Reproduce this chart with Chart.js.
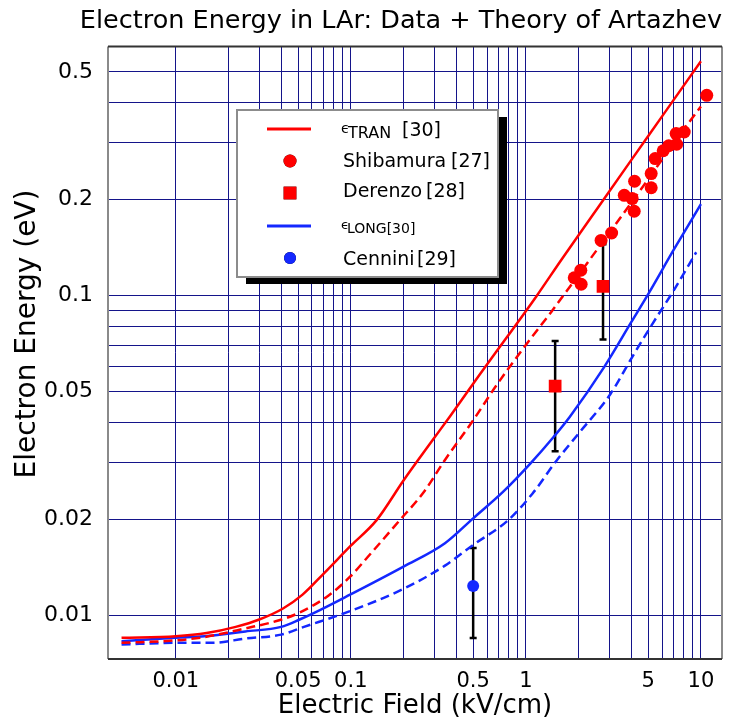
<!DOCTYPE html>
<html>
<head>
<meta charset="utf-8">
<title>Electron Energy in LAr</title>
<script src="https://cdn.jsdelivr.net/npm/chart.js@4.4.0/dist/chart.umd.min.js"></script>
<style>
  html, body { margin: 0; padding: 0; background: #fff; }
</style>
</head>
<body>
<canvas id="energyChart" width="732" height="724"></canvas>
<script>
// Artazhev theory, transverse energy (solid + dashed)
const tranField = [0.0049, 0.01, 0.015, 0.022, 0.03, 0.041, 0.053, 0.07, 0.1, 0.14, 0.2, 0.29, 0.37, 0.54, 0.79, 1.15, 1.6, 2.35, 4.0, 6.0, 10];
const tranEnergy = [0.0085, 0.0086, 0.0088, 0.0092, 0.0097, 0.0105, 0.0116, 0.0135, 0.0165, 0.0198, 0.0264, 0.035, 0.042, 0.0562, 0.0748, 0.0995, 0.1296, 0.175, 0.265, 0.363, 0.54];
const tranDashField = [0.0049, 0.01, 0.0146, 0.025, 0.039, 0.051, 0.075, 0.099, 0.13, 0.19, 0.26, 0.345, 0.5, 0.67, 0.98, 1.4, 2.0, 3.0, 5.0, 7.0, 10];
const tranDashEnergy = [0.0082, 0.00835, 0.00855, 0.0091, 0.00965, 0.0102, 0.01155, 0.0132, 0.0156, 0.0198, 0.0242, 0.0306, 0.0407, 0.0518, 0.069, 0.089, 0.116, 0.157, 0.231, 0.30, 0.39];

// Artazhev theory, longitudinal energy (solid + dashed)
const longField = [0.0049, 0.01, 0.0146, 0.025, 0.04, 0.051, 0.067, 0.099, 0.2, 0.345, 0.5, 0.74, 1.06, 1.44, 1.78, 2.8, 4.0, 5.0, 7.0, 10];
const longEnergy = [0.0083, 0.0085, 0.0086, 0.0089, 0.0092, 0.0097, 0.0104, 0.0116, 0.0142, 0.0168, 0.0201, 0.0243, 0.0298, 0.0361, 0.0417, 0.0597, 0.0825, 0.101, 0.139, 0.193];
const longDashField = [0.0049, 0.01, 0.0163, 0.025, 0.04, 0.054, 0.099, 0.2, 0.345, 0.5, 0.79, 1.09, 1.5, 2.0, 3.05, 4.05, 5.3, 7.0, 9.4];
const longDashEnergy = [0.0081, 0.0082, 0.0082, 0.00846, 0.0087, 0.0092, 0.0103, 0.0121, 0.0143, 0.0166, 0.0198, 0.024, 0.0305, 0.037, 0.0493, 0.0642, 0.0817, 0.1038, 0.1365];

// measurements
const shibField = [1.89, 2.06, 2.07, 2.69, 3.09, 3.65, 4.05, 4.16, 4.18, 5.2, 5.2, 5.48, 6.09, 6.55, 7.27, 7.22, 8.03, 10.8];
const shibEnergy = [0.1136, 0.1199, 0.1084, 0.1486, 0.1568, 0.2057, 0.2009, 0.1834, 0.2276, 0.2172, 0.2405, 0.268, 0.2835, 0.2938, 0.2971, 0.3208, 0.3245, 0.4226];
const derenzoField = [1.47, 2.76];
const derenzoEnergy = [0.0521, 0.1068];
const derenzoLow = [0.0326, 0.0728];
const derenzoHigh = [0.0721, 0.1446];
const cenniniField = [0.5];
const cenniniEnergy = [0.01235];
const cenniniLow = [0.00849];
const cenniniHigh = [0.01623];

// tick labels
const xTickLabels = [0.01, 0.05, 0.1, 0.5, 1, 5, 10];
const yTickLabels = [0.01, 0.02, 0.05, 0.1, 0.2, 0.5];

const FONT = 'DejaVu Sans';
const RED = '#ff0000';
const BLUE = '#1428ff';
const GRID = '#14148a';

const toPoints = (xs, ys) => xs.map((x, i) => ({ x: x, y: ys[i] }));

// grid line at every 1..9 x 10^n from 0.01 up
function gridTicks(scale) {
  const ticks = [];
  for (let e = -2; e <= 1; e++) {
    for (let m = 1; m <= 9; m++) {
      const v = +(m * Math.pow(10, e)).toPrecision(2);
      if (v >= 0.01 && v <= scale.max) ticks.push({ value: v });
    }
  }
  scale.ticks = ticks;
}

function labelFor(list) {
  return function (value) {
    const hit = list.find(l => Math.abs(l - value) < l * 1e-6);
    return hit === undefined ? '' : String(hit);
  };
}

const errorBarPlugin = {
  id: 'errorBars',
  beforeDatasetsDraw(chart) {
    const { ctx, scales: { x, y } } = chart;
    ctx.save();
    ctx.strokeStyle = '#000';
    ctx.lineWidth = 2.5;
    chart.data.datasets.forEach(ds => {
      if (!ds.errLow) return;
      ds.data.forEach((p, i) => {
        const px = x.getPixelForValue(p.x);
        const top = y.getPixelForValue(ds.errHigh[i]);
        const bot = y.getPixelForValue(ds.errLow[i]);
        ctx.beginPath();
        ctx.moveTo(px, top); ctx.lineTo(px, bot);
        ctx.moveTo(px - 3.5, top); ctx.lineTo(px + 3.5, top);
        ctx.moveTo(px - 3.5, bot); ctx.lineTo(px + 3.5, bot);
        ctx.stroke();
      });
    });
    ctx.restore();
  }
};

// plot frame + rotated y-axis title
const framePlugin = {
  id: 'frame',
  afterDraw(chart) {
    const { ctx, chartArea: a } = chart;
    ctx.save();
    ctx.lineWidth = 2;
    ctx.strokeStyle = '#8a8a8a';
    ctx.beginPath();
    ctx.moveTo(a.left, a.top); ctx.lineTo(a.left, a.bottom);
    ctx.moveTo(a.right, a.top); ctx.lineTo(a.right, a.bottom);
    ctx.stroke();
    ctx.strokeStyle = '#333';
    ctx.beginPath();
    ctx.moveTo(a.left, a.top); ctx.lineTo(a.right, a.top);
    ctx.moveTo(a.left, a.bottom); ctx.lineTo(a.right, a.bottom);
    ctx.stroke();

    ctx.translate(28, 334);
    ctx.rotate(-Math.PI / 2);
    ctx.fillStyle = '#000';
    ctx.font = '28px "' + FONT + '"';
    ctx.textAlign = 'center';
    ctx.textBaseline = 'middle';
    ctx.fillText('Electron Energy (eV)', 0, 0);
    ctx.restore();
  }
};

// boxed legend with a drop shadow, inside the plot
const legendRows = [
  { ds: 4, y: 129, parts: [['\u03F5', 14, 341, 133], ['TRAN', 16, 348, 138], ['[30]', 19, 402, 136]] },
  { ds: 0, y: 161, parts: [['Shibamura', 19, 343, 167], ['[27]', 19, 451, 167]] },
  { ds: 1, y: 193, parts: [['Derenzo', 19, 343, 197], ['[28]', 19, 426, 197]] },
  { ds: 6, y: 226, parts: [['\u03F5', 13, 341, 229], ['LONG[30]', 14, 347, 233]] },
  { ds: 2, y: 258, parts: [['Cennini', 19, 343, 265], ['[29]', 19, 417, 265]] }
];

const boxLegendPlugin = {
  id: 'boxLegend',
  afterDraw(chart) {
    const ctx = chart.ctx;
    const L = 237, T = 110, W = 261, H = 167;
    ctx.save();
    ctx.fillStyle = '#000';
    ctx.fillRect(L + 9, T + 7, W, H);
    ctx.fillStyle = '#fff';
    ctx.fillRect(L, T, W, H);
    ctx.strokeStyle = '#8c8c8c';
    ctx.lineWidth = 2;
    ctx.strokeRect(L, T, W, H);

    legendRows.forEach(row => {
      const ds = chart.data.datasets[row.ds];
      if (ds.showLine) {
        ctx.strokeStyle = ds.borderColor;
        ctx.lineWidth = 3;
        ctx.beginPath();
        ctx.moveTo(267, row.y);
        ctx.lineTo(311, row.y);
        ctx.stroke();
      } else {
        Chart.helpers.drawPoint(ctx, {
          pointStyle: ds.pointStyle,
          radius: ds.pointRadius,
          rotation: 0,
          borderWidth: 0
        }, 290, row.y);
        ctx.fillStyle = ds.backgroundColor;
        ctx.fill();
      }
      ctx.fillStyle = '#000';
      ctx.textBaseline = 'alphabetic';
      ctx.textAlign = 'left';
      row.parts.forEach(([text, size, x, base]) => {
        ctx.font = size + 'px "' + FONT + '"';
        ctx.fillText(text, x, base);
      });
    });
    ctx.restore();
  }
};

const lineStyle = { pointRadius: 0, showLine: true, borderWidth: 2.5, cubicInterpolationMode: 'monotone' };

new Chart(document.getElementById('energyChart'), {
  type: 'scatter',
  data: {
    datasets: [
      {
        label: 'Shibamura [27]',
        data: toPoints(shibField, shibEnergy),
        backgroundColor: RED, borderColor: RED, borderWidth: 0,
        pointStyle: 'circle', pointRadius: 6.5, showLine: false
      },
      {
        label: 'Derenzo [28]',
        data: toPoints(derenzoField, derenzoEnergy),
        errLow: derenzoLow, errHigh: derenzoHigh,
        backgroundColor: RED, borderColor: RED, borderWidth: 0,
        pointStyle: 'rect', pointRadius: 9, showLine: false
      },
      {
        label: 'Cennini [29]',
        data: toPoints(cenniniField, cenniniEnergy),
        errLow: cenniniLow, errHigh: cenniniHigh,
        backgroundColor: BLUE, borderColor: BLUE, borderWidth: 0,
        pointStyle: 'circle', pointRadius: 6, showLine: false
      },
      Object.assign({
        label: 'eps TRAN dashed',
        data: toPoints(tranDashField, tranDashEnergy),
        borderColor: RED, borderDash: [9, 5]
      }, lineStyle),
      Object.assign({
        label: 'eps TRAN [30]',
        data: toPoints(tranField, tranEnergy),
        borderColor: RED
      }, lineStyle),
      Object.assign({
        label: 'eps LONG dashed',
        data: toPoints(longDashField, longDashEnergy),
        borderColor: BLUE, borderDash: [9, 5]
      }, lineStyle),
      Object.assign({
        label: 'eps LONG [30]',
        data: toPoints(longField, longEnergy),
        borderColor: BLUE
      }, lineStyle)
    ]
  },
  options: {
    responsive: false,
    animation: false,
    devicePixelRatio: 1,
    layout: { padding: { left: 0, right: 10, top: 0, bottom: 0 } },
    plugins: {
      legend: { display: false },
      tooltip: { enabled: false },
      title: {
        display: true,
        text: 'Electron Energy in LAr: Data + Theory of Artazhev',
        align: 'end',
        color: '#000',
        font: { family: FONT, size: 25.5, weight: 'normal' },
        padding: { top: 6, bottom: 10 }
      }
    },
    scales: {
      x: {
        type: 'logarithmic',
        min: 0.0041,
        max: 13.2,
        afterFit(s) { s.height = 65; },
        afterBuildTicks: gridTicks,
        grid: { color: GRID, lineWidth: 1, drawTicks: false },
        border: { display: false },
        ticks: {
          autoSkip: false, maxRotation: 0, padding: 10, color: '#000',
          font: { family: FONT, size: 21 },
          callback: labelFor(xTickLabels)
        },
        title: {
          display: true, text: 'Electric Field (kV/cm)', color: '#000',
          font: { family: FONT, size: 26 },
          padding: { top: 0, bottom: 2 }
        }
      },
      y: {
        type: 'logarithmic',
        min: 0.0073,
        max: 0.60,
        afterFit(s) { s.width = 108; },
        afterBuildTicks: gridTicks,
        grid: { color: GRID, lineWidth: 1, drawTicks: false },
        border: { display: false },
        ticks: {
          autoSkip: false, padding: 15, color: '#000',
          font: { family: FONT, size: 22 },
          callback: labelFor(yTickLabels)
        },
        title: { display: false }
      }
    }
  },
  plugins: [errorBarPlugin, framePlugin, boxLegendPlugin]
});
</script>
</body>
</html>
